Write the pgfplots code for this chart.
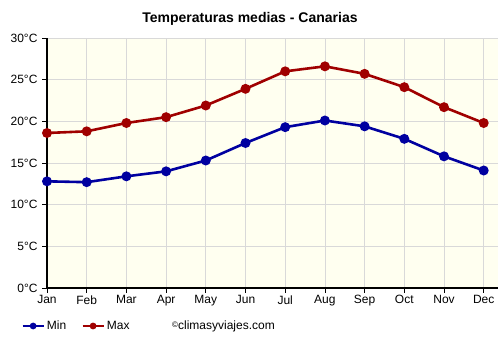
\documentclass[border=0pt]{standalone}
\usepackage{pgfplots}
\pgfplotsset{compat=1.18}
\usepackage{fontspec}
\setmainfont{Liberation Sans}
\definecolor{minc}{RGB}{0,0,160}
\definecolor{maxc}{RGB}{160,0,0}
\definecolor{bgc}{RGB}{255,255,240}
\definecolor{gridc}{RGB}{217,217,217}
\begin{document}
\begin{tikzpicture}[x=1pt,y=1pt]
\path[use as bounding box] (0,0) rectangle (500,350);
\node[font=\fontsize{14}{16}\selectfont\bfseries] at (250,331) {Temperaturas medias - Canarias};
\begin{axis}[
  at={(47pt,62pt)}, anchor=south west,
  scale only axis, width=451pt, height=250pt,
  xmin=0, xmax=11.36, ymin=0, ymax=30,
  axis background/.style={fill=bgc},
  axis x line*=bottom, axis y line*=left,
  axis line style={black, line width=1.6pt, -},
  xtick={0,...,11},
  xticklabels={Jan,Feb,Mar,Apr,May,Jun,Jul,Aug,Sep,Oct,Nov,Dec},
  ytick={0,5,...,30},
  yticklabel={\pgfmathprintnumber{\tick}°C},
  tick align=outside, major tick length=5pt,
  tick style={black, line width=0.8pt},
  grid=major, grid style={gridc, line width=0.8pt},
  ticklabel style={font=\fontsize{12}{14}\selectfont},
  /pgf/number format/assume math mode=true,
  xticklabel style={yshift=1pt},
  yticklabel style={xshift=-1pt},
  legend columns=2,
  legend style={at={(-0.064,-0.152)}, anchor=west, draw=none, fill=none,
    font=\fontsize{12}{14}\selectfont, column sep=0pt,
    nodes={inner xsep=2pt}},
  legend image code/.code={\draw[#1, mark=none] (0pt,0pt) -- (21pt,0pt); \fill[#1] (10.5pt,0pt) circle (2pt);},
  legend cell align=left,
  clip=false,
]
\addplot[minc, line width=2.6pt, mark=*, mark size=3.6pt] coordinates {
(0,12.8) (1,12.7) (2,13.4) (3,14.0) (4,15.3) (5,17.4) (6,19.3) (7,20.1) (8,19.4) (9,17.9) (10,15.8) (11,14.1)};
\addlegendentry{Min\hspace*{13pt}}
\addplot[maxc, line width=2.6pt, mark=*, mark size=3.6pt] coordinates {
(0,18.6) (1,18.8) (2,19.8) (3,20.5) (4,21.9) (5,23.9) (6,26.0) (7,26.6) (8,25.7) (9,24.1) (10,21.7) (11,19.8)};
\addlegendentry{Max}
\end{axis}
\node[anchor=west, font=\fontsize{12}{14}\selectfont, inner sep=0pt] at (172,24) {\raisebox{2pt}{\fontsize{8}{8}\selectfont ©}climasyviajes.com};
\end{tikzpicture}
\end{document}
